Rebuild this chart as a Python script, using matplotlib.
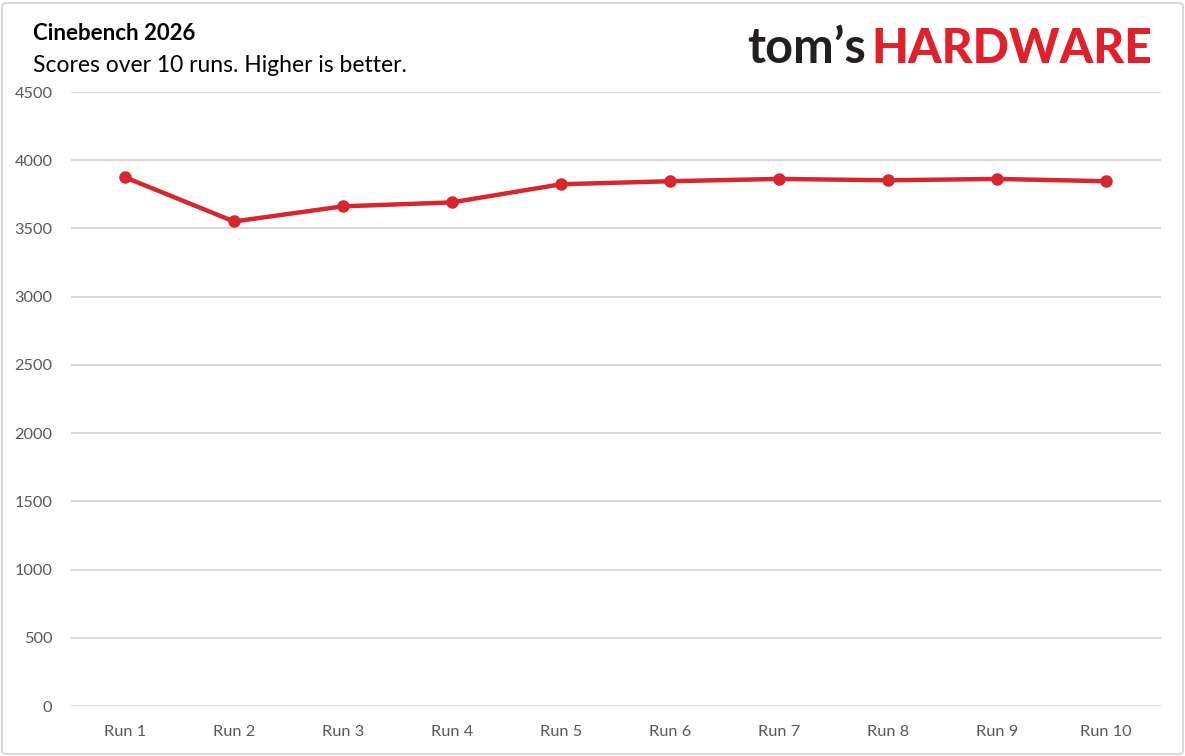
import matplotlib
matplotlib.use("Agg")
import matplotlib.pyplot as plt
from matplotlib.patches import FancyBboxPatch

runs = ["Run 1", "Run 2", "Run 3", "Run 4", "Run 5",
        "Run 6", "Run 7", "Run 8", "Run 9", "Run 10"]
scores = [3875, 3551, 3662, 3691, 3824, 3846, 3863, 3853, 3863, 3846]
y_ticks = [0, 500, 1000, 1500, 2000, 2500, 3000, 3500, 4000, 4500]

RED = "#d7262e"
GRID = "#d9d9d9"
TICK = "#595959"

plt.rcParams['font.family'] = ['Lato', 'DejaVu Sans']

fig = plt.figure(figsize=(11.85, 7.56), dpi=100)
ax = fig.add_axes([70.5 / 1185, 50 / 756, 1090 / 1185, 614 / 756])

x = list(range(len(runs)))
ax.plot(x, scores, color=RED, linewidth=3.2, marker='o', markersize=8,
        solid_capstyle='round', zorder=3)

ax.set_xlim(-0.5, len(runs) - 0.5)
ax.set_ylim(0, 4500)
ax.set_yticks(y_ticks)
ax.set_yticklabels([str(v) for v in y_ticks])
ax.set_xticks(x)
ax.set_xticklabels(runs)
ax.grid(axis='y', color=GRID, linewidth=1.5)
ax.set_axisbelow(True)
for s in ax.spines.values():
    s.set_visible(False)
ax.tick_params(axis='both', length=0, labelsize=11.8, labelcolor=TICK)
ax.tick_params(axis='y', pad=13)
ax.tick_params(axis='x', pad=13.5)

fig.text(33 / 1185, 1 - 40 / 756, "Cinebench 2026", fontsize=16,
         fontweight='bold', color='black', va='baseline')
fig.text(33 / 1185, 1 - 72 / 756, "Scores over 10 runs. Higher is better.",
         fontsize=16.5, color='black', va='baseline')

# logo
hw = fig.text(1152 / 1185, 1 - 63 / 756, "HARDWARE", fontsize=34.5,
              fontweight='black', color="#e0202a", ha='right', va='baseline')
fig.canvas.draw()
bb = hw.get_window_extent()
fig.text((bb.x0 - 5) / 1185, 1 - 63 / 756, "tom\u2019s", fontsize=35,
         fontweight='bold', color="#231f20", ha='right', va='baseline')

border = FancyBboxPatch((2 / 1185, 2 / 756), 1181 / 1185, 751 / 756,
                        boxstyle="round,pad=0,rounding_size=0.004",
                        transform=fig.transFigure, fill=False,
                        edgecolor="#d9d9d9", linewidth=1.5)
fig.patches.append(border)

fig.savefig("out.png", dpi=100)
